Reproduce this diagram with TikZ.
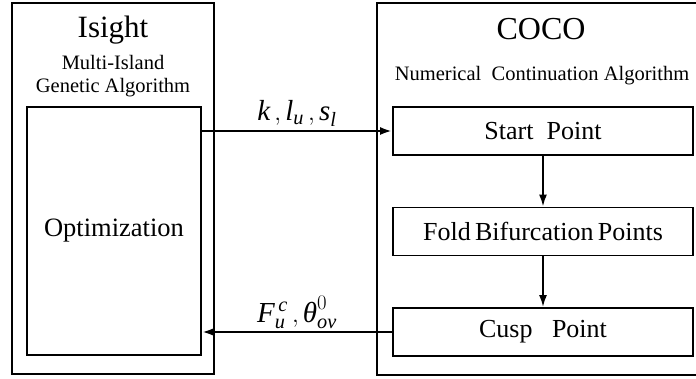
\documentclass[tikz,border=0pt]{standalone}
\usepackage{amsmath}
\usepackage{fontspec}
\setmainfont{Liberation Serif}
\usetikzlibrary{arrows.meta}

\begin{document}
\begin{tikzpicture}[x=1pt,y=-1pt,
    outer/.style={line width=2pt},
    stage/.style={draw, line width=1.8pt, minimum width=300pt, minimum height=48pt,
      inner sep=0pt, font=\fontsize{26}{28}\selectfont},
    flow/.style={line width=2.4pt, -{Latex[length=12pt,width=8pt]}}]
  \useasboundingbox (0,0) rectangle (696,379);

  % Isight frame
  \draw[outer] (12,3) rectangle (214,374);
  \node (isight) at (113,30) {\fontsize{31}{33}\selectfont Isight};
  \node[align=center, font=\fontsize{20.5}{23}\selectfont] (mia) at (113,76)
    {Multi-Island\\Genetic Algorithm};
  \node[draw, line width=1.8pt, minimum width=174pt, minimum height=248pt, inner sep=0pt,
    font=\fontsize{26.5}{28}\selectfont] (opt) at (114,231) {Optimization};

  % COCO frame (cut at the right edge)
  \draw[outer] (697,3) -- (377,3) -- (377,375) -- (697,375);
  \node (coco) at (541,29) {\fontsize{32}{34}\selectfont COCO};
  \node[font=\fontsize{20.5}{25}\selectfont] (nca) at (542,76)
    {Numerical~ Continuation Algorithm};

  % Stages
  \node[stage] (start) at (543,131) {Start~~Point};
  \node[stage] (fold) at (543,231.5) {Fold\,Bifurcation\,Points};
  \node[stage] (cusp) at (543,332) {Cusp~~~Point};

  % Arrows
  \draw[flow, line width=2pt] (start) -- (fold);
  \draw[flow, line width=2pt] (fold) -- (cusp);
  \draw[flow] (opt.east |- start) -- (start.west)
    node[midway, above=0pt, font=\fontsize{29}{30}\selectfont]
    {$\textit{k}\,,\textit{l}_{\textit{u}}\,,\textit{s}_{\textit{l}}$};
  \draw[flow] (cusp.west) -- (opt.east |- cusp)
    node[midway, above=-1pt, font=\fontsize{29}{30}\selectfont]
    {$\textit{F}^{\,\textit{c}}_{\textit{u}}\,,\textit{θ}^{0}_{\textit{ov}}$};
\end{tikzpicture}
\end{document}
